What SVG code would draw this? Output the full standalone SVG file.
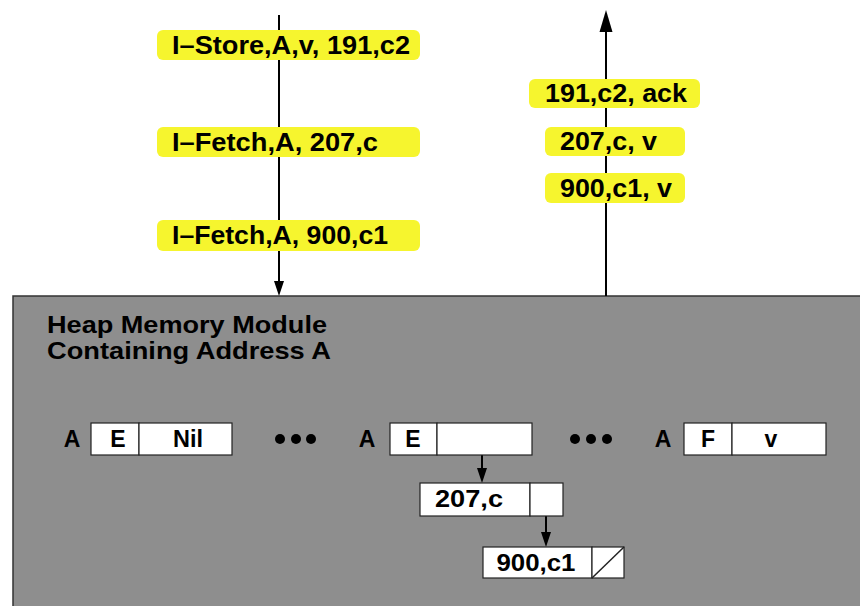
<svg xmlns="http://www.w3.org/2000/svg" width="860" height="606" viewBox="0 0 860 606">
<defs>
<path id="ahd" d="M0,0 L-5,-15 L5,-15 Z" fill="#000"/>
</defs>
<style>
.lbl{fill:#f6f52e;}
.t{font-family:"Liberation Sans",Arial,sans-serif;font-weight:bold;fill:#000;}
.lt{font-size:25px;}
.ct{font-size:23px;text-anchor:middle;}
.cell{fill:#fff;stroke:#222;stroke-width:1.2;}
.wire{stroke:#000;stroke-width:2;fill:none;}
</style>
<rect width="860" height="606" fill="#fff"/>
<g id="heap">
<rect x="13" y="296" width="860" height="330" fill="#8e8e8e" stroke="#333" stroke-width="1.5"/>
<text class="t" x="47" y="333" font-size="24" textLength="280" lengthAdjust="spacingAndGlyphs">Heap Memory Module</text>
<text class="t" x="47" y="359" font-size="24" textLength="284" lengthAdjust="spacingAndGlyphs">Containing Address A</text>
</g>
<g id="connectors">
<line class="wire" x1="279" y1="15" x2="279" y2="284"/>
<use href="#ahd" x="279" y="296"/>
<line class="wire" x1="606" y1="296" x2="606" y2="28"/>
<path d="M606,10 L599.5,32 L612.5,32 Z" fill="#000"/>
<line class="wire" x1="482" y1="438" x2="482" y2="472"/>
<use href="#ahd" x="482" y="483"/>
<line class="wire" x1="546" y1="502" x2="546" y2="536"/>
<use href="#ahd" x="546" y="547"/>
</g>
<g id="req1"><rect class="lbl" x="157" y="30" width="263" height="30" rx="6"/><text class="t lt" x="172" y="54" textLength="238" lengthAdjust="spacingAndGlyphs">I–Store,A,v, 191,c2</text></g>
<g id="req2"><rect class="lbl" x="157" y="127" width="263" height="30" rx="6"/><text class="t lt" x="172" y="151" textLength="206" lengthAdjust="spacingAndGlyphs">I–Fetch,A, 207,c</text></g>
<g id="req3"><rect class="lbl" x="157" y="220" width="263" height="31" rx="6"/><text class="t lt" x="172" y="244" textLength="216" lengthAdjust="spacingAndGlyphs">I–Fetch,A, 900,c1</text></g>
<g id="resp1"><rect class="lbl" x="529" y="79" width="171" height="29" rx="6"/><text class="t lt" x="545" y="102" textLength="142" lengthAdjust="spacingAndGlyphs">191,c2, ack</text></g>
<g id="resp2"><rect class="lbl" x="545" y="127" width="140" height="29" rx="6"/><text class="t lt" x="560" y="150" textLength="97" lengthAdjust="spacingAndGlyphs">207,c, v</text></g>
<g id="resp3"><rect class="lbl" x="545" y="173" width="140" height="30" rx="6"/><text class="t lt" x="560" y="197" textLength="112" lengthAdjust="spacingAndGlyphs">900,c1, v</text></g>
<g id="entry1">
<text class="t ct" x="72" y="447">A</text>
<rect class="cell" x="91" y="423" width="48" height="32"/>
<rect class="cell" x="139" y="423" width="93" height="32"/>
<text class="t ct" x="118" y="447">E</text>
<text class="t ct" x="188" y="447" textLength="30" lengthAdjust="spacingAndGlyphs">Nil</text>
</g>
<g id="dots1"><circle cx="280" cy="439" r="5"/><circle cx="296" cy="439" r="5"/><circle cx="311" cy="439" r="5"/></g>
<g id="entry2">
<text class="t ct" x="367" y="447">A</text>
<rect class="cell" x="390" y="423" width="47" height="32"/>
<rect class="cell" x="437" y="423" width="95" height="32"/>
<text class="t ct" x="413" y="447">E</text>
</g>
<g id="dots2"><circle cx="575" cy="439" r="5"/><circle cx="591" cy="439" r="5"/><circle cx="607" cy="439" r="5"/></g>
<g id="entry3">
<text class="t ct" x="663" y="447">A</text>
<rect class="cell" x="684" y="423" width="48" height="32"/>
<rect class="cell" x="732" y="423" width="94" height="32"/>
<text class="t ct" x="708" y="447">F</text>
<text class="t ct" x="771" y="447">v</text>
</g>
<g id="node207">
<rect class="cell" x="420" y="483" width="110" height="33"/>
<rect class="cell" x="530" y="483" width="33" height="33"/>
<text class="t ct" x="469" y="507" textLength="68" lengthAdjust="spacingAndGlyphs">207,c</text>
</g>
<g id="node900">
<rect class="cell" x="483" y="547" width="109" height="31"/>
<rect class="cell" x="592" y="547" width="32" height="31"/>
<line x1="592" y1="578" x2="624" y2="547" stroke="#222" stroke-width="1.5"/>
<text class="t ct" x="536" y="571" textLength="79" lengthAdjust="spacingAndGlyphs">900,c1</text>
</g>
</svg>
